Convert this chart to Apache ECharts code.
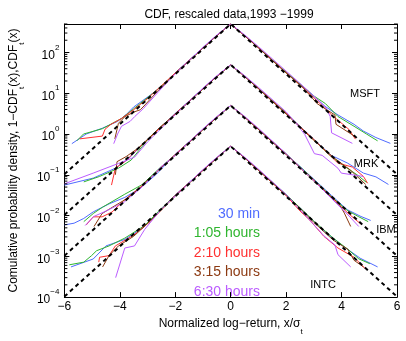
<!DOCTYPE html>
<html>
<head>
<meta charset="utf-8">
<script src="https://cdn.jsdelivr.net/npm/echarts@6/dist/echarts.min.js"></script>
<style>
  html, body { margin: 0; padding: 0; background: #fff; }
  #chart { width: 406px; height: 341px; }
</style>
</head>
<body>
<div id="chart"></div>
<script>
// time scales, colours and stocks
var intervals = ['30 min', '1:05 hours', '2:10 hours', '3:15 hours', '6:30 hours'];
var colors = ['#4f6bff', '#2fb52f', '#ff3030', '#8c3a12', '#bb5cff'];
var stocks = ['MSFT', 'MRK', 'IBM', 'INTC'];

// rescaled CDF curves, [x/sigma, value] (MSFT x1000, MRK x100, IBM x10, INTC x1)
var msft30 = [[-5.73,0.58],[-5.21,1.0],[-4.63,1.39],[-4.08,2.04],[-3.77,3.0],[-3.5,4.6],[-2.9,9.0],[-2.33,18],[-2,32],[-1,131],[-0.5,262],[0,500],[0.5,262],[1,131],[2,32],[2.5,16.5],[3,8.4],[3.4,4.8],[3.87,2.94],[4.45,1.73],[4.79,1.18],[5.24,0.82],[5.76,0.59]];
var msft105 = [[-5.55,0.68],[-5.31,1.0],[-4.63,1.35],[-3.94,2.4],[-3.5,4.16],[-3.0,7.8],[-2.47,15.5],[-2,31],[-1,130],[-0.5,260],[0,500],[0.5,264],[1,133],[2,33],[2.5,17],[3,8.6],[3.42,5.56],[3.87,2.69],[4.45,1.55],[4.9,1.0],[5.3,0.68]];
var msft210 = [[-5.45,0.76],[-4.63,0.89],[-4.53,1.32],[-4.32,1.73],[-3.94,2.4],[-3.5,3.94],[-3.0,7.4],[-2,31.5],[-1,130],[-0.5,261],[0,500],[0.5,261],[1,131],[2,32],[2.5,16],[3,7.8],[3.63,3.0],[4.27,1.29],[4.5,0.75]];
var msft315 = [[-4.18,0.76],[-4.05,1.83],[-3.81,2.69],[-3.46,3.53],[-3.26,3.94],[-3.09,5.18],[-2.6,12],[-2,30],[-1,128],[-0.5,258],[0,500],[0.5,260],[1,130],[2,31.5],[2.6,14],[3.12,5.56],[3.76,2.94],[3.8,1.73],[4.45,0.9]];
var msft630 = [[-4.22,0.58],[-4.08,1.0],[-3.94,1.55],[-3.63,2.04],[-3.46,2.69],[-3.15,4.2],[-2.6,11],[-2,30],[-1,134],[-0.5,268],[0,500],[0.5,272],[1,140],[1.5,70],[2,35],[2.5,17.5],[3,8.6],[3.42,4.6],[3.59,2.69],[3.64,1.07],[4.39,0.59]];

var mrk30 = [[-6,0.056],[-4.96,0.083],[-4.16,0.145],[-3.67,0.254],[-3.0,0.74],[-2,3.2],[-1,13.1],[-0.5,26.2],[0,50],[0.5,26.2],[1,13.1],[2,3.2],[2.5,1.55],[3,0.74],[3.63,0.3],[4.22,0.193],[4.79,0.11],[5.24,0.089],[5.69,0.058]];
var mrk105 = [[-5.3,0.067],[-4.73,0.091],[-4.05,0.145],[-3.59,0.23],[-3.0,0.72],[-2,3.1],[-1,13.0],[-0.5,26],[0,50],[0.5,26.4],[1,13.3],[2,3.3],[2.5,1.5],[3,0.72],[3.6,0.29],[4.04,0.173],[4.56,0.1],[4.9,0.065]];
var mrk210 = [[-4.3,0.056],[-4.16,0.145],[-3.82,0.21],[-3.3,0.47],[-2.5,1.5],[-2,3.15],[-1,13.0],[-0.5,26.1],[0,50],[0.5,26.1],[1,13.1],[2,3.2],[2.5,1.52],[3,0.74],[3.5,0.34],[3.87,0.193],[4.39,0.155],[4.79,0.091],[4.94,0.062]];
var mrk315 = [[-4.16,0.1],[-4.1,0.21],[-3.77,0.28],[-3.3,0.47],[-2.5,1.58],[-2,3.0],[-1,12.8],[-0.5,25.8],[0,50],[0.5,26],[1,13],[2,3.1],[2.5,1.48],[3,0.7],[3.7,0.27],[4.32,0.13],[4.87,0.058]];
var mrk630 = [[-6,0.06],[-4.96,0.11],[-4.05,0.19],[-3.47,0.27],[-3.0,0.64],[-2,3.0],[-1,13.4],[-0.5,26.8],[0,50],[0.5,27.2],[1,14],[2,3.5],[2.4,1.7],[2.67,0.98],[3.02,0.33],[3.3,0.3],[3.87,0.145],[3.99,0.11],[4.79,0.091]];

var ibm30 = [[-6,0.0059],[-5.65,0.0065],[-5.3,0.0085],[-4.96,0.0123],[-4.39,0.0193],[-3.82,0.0279],[-3.25,0.047],[-2.67,0.105],[-2,0.32],[-1,1.31],[-0.5,2.62],[0,5],[0.5,2.62],[1,1.31],[2,0.32],[2.5,0.16],[3,0.078],[3.64,0.031],[4.2,0.014],[4.7,0.0095],[5.05,0.0076]];
var ibm105 = [[-5.3,0.0071],[-4.96,0.0112],[-4.62,0.0161],[-3.82,0.0334],[-3.2,0.057],[-2.5,0.16],[-2,0.31],[-1,1.3],[-0.5,2.6],[0,5],[0.5,2.64],[1,1.33],[2,0.33],[2.5,0.158],[3,0.076],[3.64,0.029],[4.2,0.0135],[4.6,0.0095],[4.96,0.0071]];
var ibm210 = [[-5.21,0.0059],[-4.96,0.0093],[-4.64,0.0093],[-4.28,0.0122],[-3.84,0.024],[-3.3,0.047],[-2.5,0.152],[-2,0.315],[-1,1.3],[-0.5,2.61],[0,5],[0.5,2.61],[1,1.31],[2,0.32],[2.5,0.152],[3,0.074],[3.64,0.028],[4.2,0.012],[4.5,0.008],[4.7,0.0062]];
var ibm315 = [[-4.93,0.0054],[-4.64,0.0112],[-4.18,0.0174],[-3.77,0.0254],[-3.2,0.052],[-2.5,0.155],[-2,0.3],[-1,1.28],[-0.5,2.58],[0,5],[0.5,2.6],[1,1.3],[2,0.315],[2.5,0.15],[3,0.07],[3.5,0.034],[3.9,0.02],[4.1,0.0115],[4.33,0.0054]];
var ibm630 = [[-5.25,0.0057],[-4.94,0.0095],[-4.53,0.0126],[-3.84,0.0215],[-3.2,0.05],[-2.5,0.16],[-2,0.3],[-1,1.34],[-0.5,2.68],[0,5],[0.5,2.72],[1,1.38],[2,0.33],[2.5,0.152],[3,0.072],[3.64,0.026],[4.2,0.011],[4.62,0.0054]];

var intc30 = [[-5.76,0.00055],[-4.96,0.00086],[-4.5,0.0018],[-3.82,0.0026],[-3.13,0.0052],[-2.5,0.0145],[-2,0.032],[-1,0.131],[-0.5,0.262],[0,0.5],[0.5,0.262],[1,0.131],[2,0.032],[2.5,0.0155],[3,0.0072],[3.5,0.0035],[4.1,0.0017],[4.67,0.0009],[5.3,0.00055]];
var intc105 = [[-5.82,0.00062],[-5.3,0.00072],[-5.02,0.00104],[-4.84,0.00137],[-4.39,0.0018],[-3.82,0.0028],[-3.1,0.0057],[-2.5,0.015],[-2,0.031],[-1,0.13],[-0.5,0.26],[0,0.5],[0.5,0.264],[1,0.133],[2,0.033],[2.5,0.0155],[3,0.0073],[3.7,0.0028],[4.22,0.0015],[4.62,0.00087],[5.02,0.00066]];
var intc210 = [[-4.76,0.00072],[-4.73,0.00095],[-4.39,0.00104],[-4.16,0.0018],[-3.5,0.0033],[-2.9,0.0072],[-2,0.0315],[-1,0.13],[-0.5,0.261],[0,0.5],[0.5,0.261],[1,0.13],[2,0.031],[2.5,0.013],[2.85,0.0078],[3.36,0.0031],[3.87,0.0016],[4.45,0.00095],[4.85,0.0005]];
var intc315 = [[-4.62,0.00055],[-4.39,0.00104],[-4.05,0.0018],[-3.5,0.0031],[-2.9,0.0074],[-2,0.03],[-1,0.128],[-0.5,0.258],[0,0.5],[0.5,0.26],[1,0.13],[2,0.0315],[2.5,0.015],[3,0.0068],[3.7,0.0025],[4.22,0.0015],[4.45,0.0008],[4.79,0.00055]];
var intc630 = [[-4.15,0.0003],[-3.82,0.0016],[-3.47,0.0018],[-3.1,0.0046],[-2.5,0.0145],[-2,0.03],[-1,0.134],[-0.5,0.268],[0,0.5],[0.5,0.272],[1,0.138],[2,0.033],[2.5,0.014],[3,0.006],[3.36,0.0032],[3.76,0.0019],[3.87,0.0011],[4.33,0.00055]];

// exponential (Laplace) fit, dashed: value at x=-6, 0, 6
var fitX = [-6, 0, 6];
var fitPeak = [500, 50, 5, 0.5];
var fitEdge = [0.103, 0.0103, 0.00103, 0.000103];

var xTicks = [-6, -4, -2, 0, 2, 4, 6];
var yExp = [-4, -3, -2, -1, 0, 1, 2];

var curves = [
  [msft30, msft105, msft210, msft315, msft630],
  [mrk30, mrk105, mrk210, mrk315, mrk630],
  [ibm30, ibm105, ibm210, ibm315, ibm630],
  [intc30, intc105, intc210, intc315, intc630]
];

var font = '"Liberation Sans", Arial, sans-serif';

// minor ticks of the log axis: 2..9 x 10^k
var minorTicks = [];
for (var k = -4; k <= 2; k++) {
  for (var m = 2; m <= 9; m++) {
    var v = m * Math.pow(10, k);
    if (v <= 500) minorTicks.push([0, v]);
  }
}

var series = [];
curves.forEach(function (group, si) {
  group.forEach(function (pts, ci) {
    series.push({
      name: stocks[si] + ' ' + intervals[ci],
      type: 'line',
      data: pts,
      showSymbol: false,
      symbol: 'none',
      lineStyle: { color: colors[ci], width: 1 },
      silent: true,
      z: 2
    });
  });
});
stocks.forEach(function (s, si) {
  series.push({
    name: s + ' fit',
    type: 'line',
    data: [[fitX[0], fitEdge[si]], [fitX[1], fitPeak[si]], [fitX[2], fitEdge[si]]],
    showSymbol: false,
    symbol: 'none',
    lineStyle: { color: '#000', width: 2, type: [4, 3.5] },
    silent: true,
    z: 3
  });
});
series.push({
  type: 'custom',
  data: minorTicks,
  encode: { x: 0, y: 1 },
  silent: true,
  clip: false,
  z: 4,
  renderItem: function (params, api) {
    var v = api.value(1);
    var pl = api.coord([-6, v]);
    var pr = api.coord([6, v]);
    return {
      type: 'group',
      children: [
        { type: 'line', shape: { x1: pl[0], y1: pl[1], x2: pl[0] + 3, y2: pl[1] }, style: { stroke: '#000', lineWidth: 1 } },
        { type: 'line', shape: { x1: pr[0], y1: pr[1], x2: pr[0] - 3, y2: pr[1] }, style: { stroke: '#000', lineWidth: 1 } }
      ]
    };
  }
});

function expLabel(v) {
  var e = Math.round(Math.log(v) / Math.LN10);
  if (Math.abs(Math.log(v) / Math.LN10 - e) > 1e-6 || yExp.indexOf(e) < 0) return '';
  return '{b|10}{s|' + String(e).replace('-', '\u2212') + '}';
}

var labelRich = {
  b: { fontSize: 12, fontFamily: font, color: '#000', lineHeight: 18, verticalAlign: 'bottom' },
  s: { fontSize: 8, fontFamily: font, color: '#000', lineHeight: 18, verticalAlign: 'top' }
};
var subRich = {
  n: { fontSize: 12, fontFamily: font, color: '#000', lineHeight: 18, verticalAlign: 'top' },
  t: { fontSize: 8, fontFamily: font, color: '#000', lineHeight: 18, verticalAlign: 'bottom' }
};

var chart = echarts.init(document.getElementById('chart'));
chart.setOption({
  animation: false,
  backgroundColor: '#fff',
  title: {
    text: 'CDF, rescaled data,1993 \u22121999',
    left: 224,
    top: 4,
    textAlign: 'center',
    textStyle: { fontFamily: font, fontSize: 12, fontWeight: 'normal', color: '#000' }
  },
  grid: { left: 47, right: 9, top: 24, bottom: 35 },
  xAxis: [{
    type: 'value',
    min: -6, max: 6, interval: 2,
    position: 'bottom',
    name: '{n|Normalized log\u2212return, x/\u03c3}{t|t}',
    nameLocation: 'middle',
    nameGap: 13,
    nameTextStyle: { rich: subRich },
    axisLine: { onZero: false, lineStyle: { color: '#000', width: 1 } },
    axisTick: { inside: true, length: 5, lineStyle: { color: '#000' } },
    axisLabel: {
      margin: 4,
      fontFamily: font, fontSize: 12, color: '#000',
      formatter: function (v) { return xTicks.indexOf(v) < 0 ? '' : String(v).replace('-', '\u2212'); }
    },
    splitLine: { show: false }
  }, {
    type: 'value',
    min: -6, max: 6, interval: 2,
    position: 'top',
    axisLine: { onZero: false, lineStyle: { color: '#000', width: 1 } },
    axisTick: { inside: true, length: 5, lineStyle: { color: '#000' } },
    axisLabel: { show: false },
    splitLine: { show: false }
  }],
  yAxis: [{
    type: 'log',
    logBase: 10,
    min: 1e-4, max: 500,
    interval: 1,
    position: 'left',
    name: '{n|Comulative probability density, 1\u2212CDF}{t|t}{n|(x),CDF}{t|t}{n|(x)}',
    nameLocation: 'middle',
    nameGap: 27,
    nameRotate: 90,
    nameTextStyle: { rich: subRich },
    axisLine: { onZero: false, lineStyle: { color: '#000', width: 1 } },
    axisTick: { inside: true, length: 5, lineStyle: { color: '#000' } },
    axisLabel: { margin: 5, formatter: expLabel, rich: labelRich },
    splitLine: { show: false },
    minorTick: { show: false }
  }, {
    type: 'log',
    logBase: 10,
    min: 1e-4, max: 500,
    interval: 1,
    position: 'right',
    axisLine: { onZero: false, lineStyle: { color: '#000', width: 1 } },
    axisTick: { inside: true, length: 5, lineStyle: { color: '#000' } },
    axisLabel: { show: false },
    splitLine: { show: false }
  }],
  graphic: [
    { type: 'text', x: 365, y: 94, style: { text: 'MSFT', fill: '#000', font: '11px ' + font, textAlign: 'center', textVerticalAlign: 'middle' } },
    { type: 'text', x: 366, y: 164, style: { text: 'MRK', fill: '#000', font: '11px ' + font, textAlign: 'center', textVerticalAlign: 'middle' } },
    { type: 'text', x: 386, y: 230, style: { text: 'IBM', fill: '#000', font: '11px ' + font, textAlign: 'center', textVerticalAlign: 'middle' } },
    { type: 'text', x: 323, y: 285, style: { text: 'INTC', fill: '#000', font: '11px ' + font, textAlign: 'center', textVerticalAlign: 'middle' } }
  ].concat(intervals.map(function (t, i) {
    return { type: 'text', x: 260, y: 214 + i * 19.5, style: { text: t, fill: colors[i], font: '14px ' + font, textAlign: 'right', textVerticalAlign: 'middle' } };
  })),
  series: series
});
</script>
</body>
</html>
